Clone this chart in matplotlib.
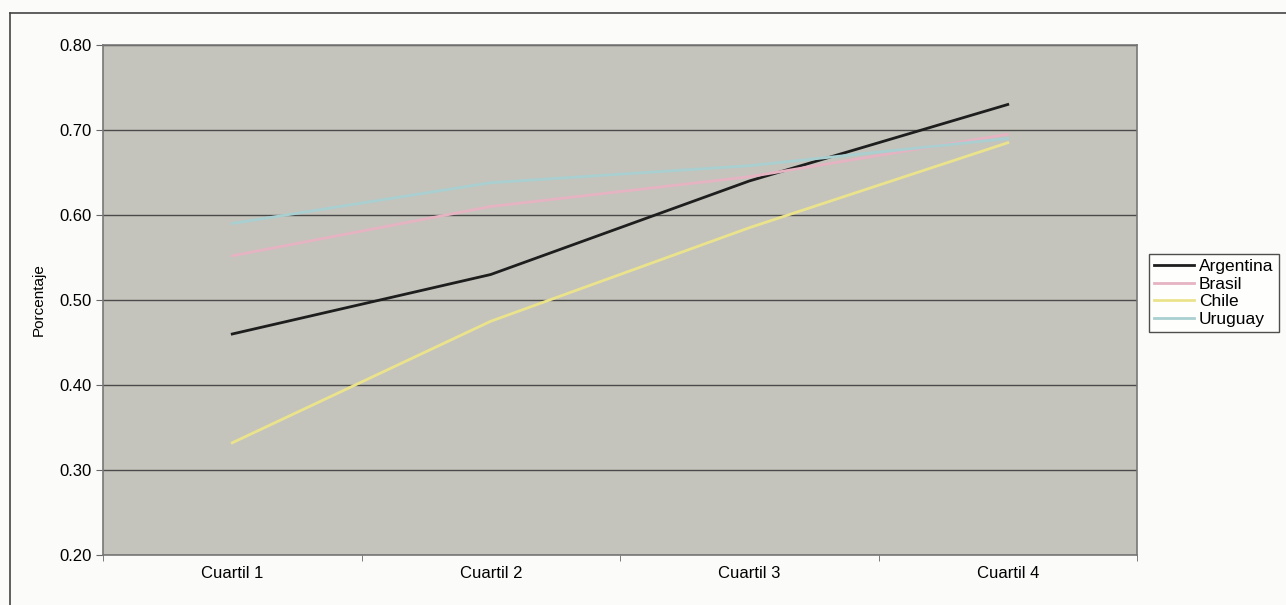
import numpy as np
import matplotlib.pyplot as plt
from matplotlib.lines import Line2D

plt.rcParams['font.family'] = ['Liberation Sans', 'DejaVu Sans']

# data
cuartiles = ['Cuartil 1', 'Cuartil 2', 'Cuartil 3', 'Cuartil 4']
argentina = [0.46, 0.53, 0.64, 0.73]
brasil = [0.552, 0.61, 0.645, 0.695]
chile = [0.332, 0.475, 0.585, 0.685]
uruguay = [0.59, 0.638, 0.658, 0.69]

series = [('Argentina', argentina, '#1e1e1e'),
          ('Brasil', brasil, '#e6b3c2'),
          ('Chile', chile, '#ebe38c'),
          ('Uruguay', uruguay, '#a9cfd0')]

fig = plt.figure(figsize=(12.86, 6.05), dpi=100)
fig.patch.set_facecolor('#fbfbf9')
ax = fig.add_axes([103/1286, 1-555/605, (1137-103)/1286, (555-45)/605])
ax.set_facecolor('#c4c4bc')

x = np.arange(len(cuartiles))
for name, vals, col in series:
    ax.plot(x, vals, color=col, linewidth=2, label=name)

ax.set_xlim(-0.5, len(cuartiles)-0.5)
ax.set_ylim(0.2, 0.8)
ax.set_yticks(np.arange(0.2, 0.81, 0.1))
ax.set_yticklabels(['%.2f' % v for v in np.arange(0.2, 0.81, 0.1)], fontsize=12)
ax.set_xticks(x)
ax.set_xticklabels(cuartiles, fontsize=12)
ax.set_xticks(np.arange(-0.5, len(cuartiles), 1), minor=True)
ax.tick_params(axis='x', which='major', length=0, pad=8)
ax.tick_params(axis='x', which='minor', length=4, color='#666666')
ax.tick_params(axis='y', length=5, color='#666666', pad=3)
ax.yaxis.grid(True, color='#4a4a4a', linewidth=1)
ax.set_axisbelow(True)
for s in ax.spines.values():
    s.set_color('#777777')
    s.set_linewidth(1.2)
ax.set_ylabel('Porcentaje', fontsize=11, labelpad=10)

handles = [Line2D([0], [0], color=c, linewidth=2) for _, _, c in series]
leg = fig.legend(handles, [s[0] for s in series], loc='center left',
                 bbox_to_anchor=(1140/1286, 1-293/605), fontsize=12.5,
                 frameon=True, fancybox=False, handlelength=2.3,
                 handletextpad=0.3, borderpad=0.3, labelspacing=0.15)
leg.get_frame().set_edgecolor('#222222')
leg.get_frame().set_facecolor('#ffffff')
leg.get_frame().set_linewidth(1)

# scan frame, top and left edges
fig.add_artist(Line2D([10/1286, 1], [1-13/605, 1-13/605], color='#444444', linewidth=1.2))
fig.add_artist(Line2D([10/1286, 10/1286], [0, 1-13/605], color='#444444', linewidth=1.2))

fig.savefig('out.png', dpi=100, facecolor=fig.get_facecolor())
